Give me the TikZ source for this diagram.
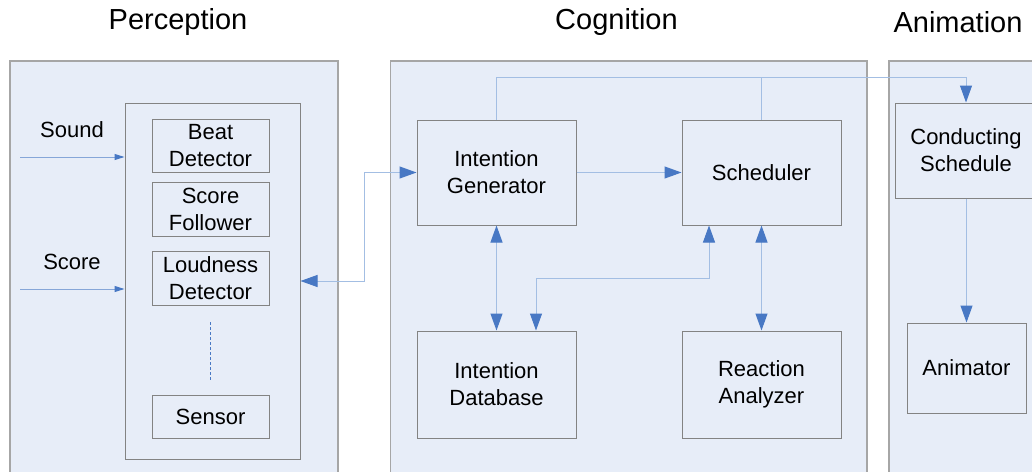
\documentclass[tikz,border=0pt]{standalone}
\usepackage{fontspec}
\setmainfont{Liberation Sans}
\usetikzlibrary{arrows.meta}
\definecolor{panelfill}{HTML}{E7EDF8}
\definecolor{panelborder}{HTML}{A6A6A6}
\definecolor{boxborder}{HTML}{838383}
\definecolor{linkblue}{HTML}{A3BEE3}
\definecolor{feedblue}{HTML}{86A6D8}
\definecolor{tipblue}{HTML}{4878C4}
\begin{document}
\begin{tikzpicture}[x=1pt,y=-1pt,
  panel/.style={draw=panelborder, line width=1.5pt, fill=panelfill},
  box/.style={draw=boxborder, line width=1pt, inner sep=0pt, align=center, font=\fontsize{22}{27}\selectfont},
  lbl/.style={font=\fontsize{22}{27}\selectfont, inner sep=0pt},
  ttl/.style={font=\fontsize{29}{34}\selectfont, inner sep=0pt},
  link/.style={draw=linkblue, line width=1pt},
  bi/.style={link, {Triangle[length=17pt,width=12pt,color=tipblue]}-{Triangle[length=17pt,width=12pt,color=tipblue]}},
  uni/.style={link, -{Triangle[length=17pt,width=12pt,color=tipblue]}},
  feed/.style={draw=feedblue, line width=1pt, -{Triangle[length=10pt,width=6pt,color=tipblue]}},
  dotline/.style={draw=tipblue, line width=1.5pt, dash pattern=on 3pt off 2pt}
]
\clip (0,0) rectangle (1032,471);
\fill[white] (0,0) rectangle (1032,471);

% titles
\node[ttl] (tper) at (178,22) {Perception};
\node[ttl] (tcog) at (616.5,22) {Cognition};
\node[ttl] (tani) at (958,22) {Animation};

% panels
\draw[panel] (10,61) rectangle (338,485);
\draw[panel] (390.7,61) rectangle (867,485);
\draw[panel] (889,61) rectangle (1050,485);

% perception
\node[box, minimum width=175pt, minimum height=356pt] (inner) at (212.5,281) {};
\node[box, minimum width=117pt, minimum height=53pt] (beat) at (210.5,145.5) {Beat\\Detector};
\node[box, minimum width=117pt, minimum height=54pt] (follow) at (210.5,209) {Score\\Follower};
\node[box, minimum width=117pt, minimum height=54pt] (loud) at (210.5,278) {Loudness\\Detector};
\node[box, minimum width=117pt, minimum height=43pt] (sensor) at (210.5,416.5) {Sensor};
\coordinate (d1) at (210.5,322);
\coordinate (d2) at (210.5,380);
\draw[dotline] (d1) -- (d2);

\node[lbl] (lsound) at (72,130) {Sound};
\node[lbl] (lscore) at (72,262) {Score};
\coordinate (snd) at (20,157);
\coordinate (scr) at (20,289);
\draw[feed] (snd) -- (snd -| inner.west);
\draw[feed] (scr) -- (scr -| inner.west);

% cognition
\node[box, minimum width=159pt, minimum height=105pt] (ig) at (496.5,172.5) {Intention\\Generator};
\node[box, minimum width=159pt, minimum height=105pt] (sch) at (761.5,172.5) {Scheduler};
\node[box, minimum width=159pt, minimum height=107pt] (id) at (496.5,384.5) {Intention\\Database};
\node[box, minimum width=159pt, minimum height=107pt] (ra) at (761.5,384.5) {Reaction\\Analyzer};

% animation
\node[box, minimum width=142pt, minimum height=95pt] (cs) at (966,150.5) {Conducting\\Schedule};
\node[box, minimum width=119pt, minimum height=90pt] (anim) at (966.5,368) {Animator};

% connectors
\coordinate (k1) at (364,281);
\draw[bi] (inner.east) -- (k1) |- (ig.west);
\draw[uni] (ig.east) -- (sch.west);
\draw[bi] (ig.south) -- (id.north);
\coordinate (k2) at (709,278);
\coordinate (k3) at (536,278);
\draw[bi] (sch.south -| k2) -- (k2) -- (k3) -- (id.north -| k3);
\draw[bi] (sch.south) -- (ra.north);
\coordinate (tc) at (966,77);
\draw[link] (sch.north) -- (sch.north |- tc);
\draw[uni] (ig.north) |- (tc) -- (cs.north);
\draw[uni] (cs.south -| anim.north) -- (anim.north);
\end{tikzpicture}
\end{document}
